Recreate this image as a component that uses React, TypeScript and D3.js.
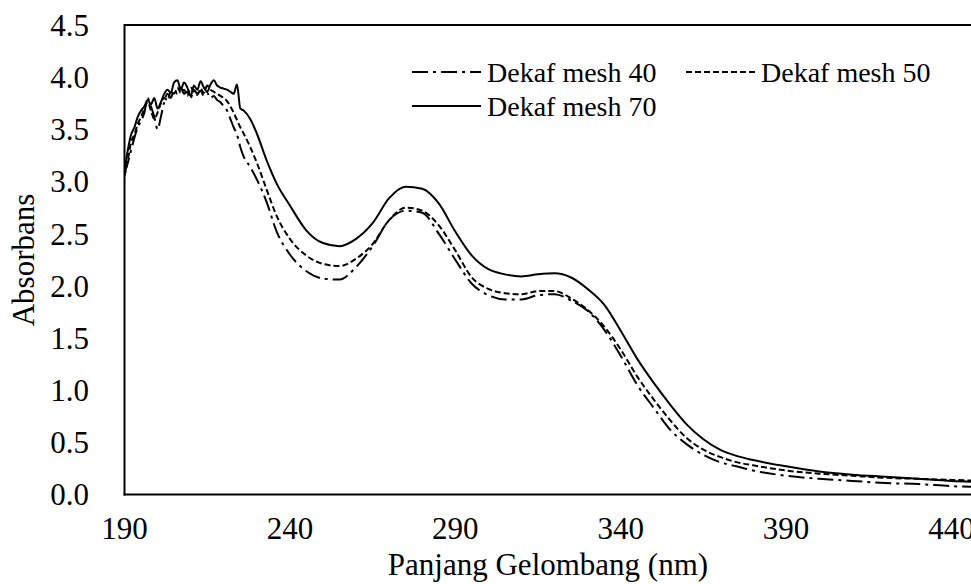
import React from "react";
import * as d3 from "d3";

const wavelengths = [
  190, 191, 192, 193, 194, 195, 196, 197, 198, 199, 200, 201, 202, 203, 204, 205, 206, 207, 208, 209,
  210, 211, 212, 213, 214, 215, 216, 217, 218, 219, 220, 221, 222, 223, 224, 225, 226, 228, 230, 233,
  236, 240, 245, 250, 255, 260, 265, 270, 275, 280, 285, 290, 295, 300, 305, 310, 315, 320, 325, 330,
  335, 340, 345, 350, 355, 360, 365, 370, 375, 380, 390, 400, 410, 420, 430, 440, 450,
];

const mesh40 = [
  3.08, 3.18, 3.3, 3.42, 3.52, 3.58, 3.66, 3.8, 3.72, 3.62, 3.5, 3.62, 3.76, 3.84, 3.8, 3.88, 3.84, 3.9, 3.84, 3.86,
  3.8, 3.88, 3.84, 3.87, 3.82, 3.85, 3.8, 3.82, 3.78, 3.76, 3.72, 3.68, 3.6, 3.52, 3.45, 3.33, 3.24, 3.14, 3.02, 2.8,
  2.52, 2.3, 2.14, 2.07, 2.06, 2.18, 2.38, 2.63, 2.72, 2.7, 2.5, 2.25, 2.02, 1.91, 1.87, 1.87, 1.91, 1.92, 1.86, 1.76,
  1.58, 1.33, 1.05, 0.83, 0.62, 0.48, 0.38, 0.31, 0.27, 0.23, 0.18, 0.15, 0.13, 0.11, 0.1, 0.08, 0.07,
];

const mesh50 = [
  3.05, 3.2, 3.38, 3.45, 3.55, 3.62, 3.7, 3.76, 3.68, 3.6, 3.66, 3.75, 3.8, 3.78, 3.86, 3.84, 3.9, 3.85, 3.88, 3.82,
  3.9, 3.86, 3.83, 3.89, 3.85, 3.92, 3.88, 3.86, 3.84, 3.82, 3.8, 3.77, 3.72, 3.66, 3.59, 3.52, 3.46, 3.33, 3.18, 2.92,
  2.67, 2.45, 2.29, 2.21, 2.19, 2.26, 2.4, 2.63, 2.75, 2.72, 2.58, 2.34, 2.08, 1.97, 1.93, 1.92, 1.95, 1.95, 1.88, 1.77,
  1.61, 1.39, 1.13, 0.91, 0.71, 0.54, 0.43, 0.36, 0.31, 0.28, 0.23, 0.2, 0.18, 0.16, 0.15, 0.14, 0.13,
];

const mesh70 = [
  3.1, 3.3, 3.45, 3.52, 3.62, 3.68, 3.72, 3.78, 3.74, 3.8, 3.7, 3.76, 3.84, 3.88, 3.85, 3.95, 3.97, 3.88, 3.95, 3.9,
  3.82, 3.92, 3.88, 3.96, 3.9, 3.86, 3.93, 3.97, 3.92, 3.9, 3.89, 3.88, 3.86, 3.84, 3.93, 3.7, 3.68, 3.6, 3.46, 3.2,
  2.98, 2.77, 2.53, 2.41, 2.38, 2.45, 2.6, 2.84, 2.95, 2.93, 2.79, 2.52, 2.29, 2.16, 2.11, 2.09, 2.11, 2.12, 2.08, 1.97,
  1.82, 1.57, 1.3, 1.07, 0.86, 0.67, 0.53, 0.43, 0.37, 0.33, 0.27, 0.22, 0.19, 0.17, 0.15, 0.13, 0.12,
];

const xTicks = [190, 240, 290, 340, 390, 440];
const yTicks = [0, 0.5, 1, 1.5, 2, 2.5, 3, 3.5, 4, 4.5];
const seriesNames = ["Dekaf mesh 40", "Dekaf mesh 50", "Dekaf mesh 70"];

const W = 971;
const H = 584;
const left = 124.5;
const top = 25;
const bottom = 494.5;
const right = 971;
const FONT = "'Liberation Serif', 'Times New Roman', Tinos, 'DejaVu Serif', serif";

export default function App() {
  const x = d3.scaleLinear().domain([190, 440]).range([left, 951.5]);
  const y = d3.scaleLinear().domain([0, 4.5]).range([bottom, top]);
  const line = d3
    .line<number>()
    .x((_, i) => x(wavelengths[i]))
    .y((v) => y(v))
    .curve(d3.curveMonotoneX);

  const dashes = ["16,5,3,5", "6,3", "none"];
  const data = [mesh40, mesh50, mesh70];
  const ts = (size: number) => ({ fontFamily: FONT, fontSize: size });

  return (
    <div style={{ position: "absolute", left: 0, top: 0 }}>
      <svg width={W} height={H} style={{ display: "block", background: "#fff" }}>
        <defs>
          <clipPath id="plot">
            <rect x={left} y={top} width={right - left + 20} height={bottom - top} />
          </clipPath>
        </defs>
        <g clipPath="url(#plot)">
          {data.map((d, i) => (
            <path
              key={i}
              d={line(d) || ""}
              fill="none"
              stroke="#000"
              strokeWidth={2}
              strokeDasharray={dashes[i]}
              strokeLinejoin="round"
            />
          ))}
        </g>
        <line x1={left} x2={right} y1={top} y2={top} stroke="#000" strokeWidth={2} />
        <line x1={left} x2={left} y1={top - 1} y2={bottom + 1} stroke="#000" strokeWidth={2} />
        <line x1={left - 1} x2={right} y1={bottom} y2={bottom} stroke="#000" strokeWidth={2} />
        {yTicks.map((t) => (
          <text key={t} x={89} y={y(t)} dy="0.35em" textAnchor="end" style={ts(31)}>
            {t.toFixed(1)}
          </text>
        ))}
        {xTicks.map((t) => (
          <text key={t} x={x(t)} y={528} dy="0.35em" textAnchor="middle" style={ts(31)}>
            {t}
          </text>
        ))}
        <text x={548} y={575} textAnchor="middle" style={ts(31)}>
          Panjang Gelombang (nm)
        </text>
        <text transform="translate(34,260) rotate(-90)" textAnchor="middle" style={ts(31)}>
          Absorbans
        </text>
        {/* legend */}
        <line x1={412} x2={481} y1={72} y2={72} stroke="#000" strokeWidth={2} strokeDasharray="16,5,3,5" />
        <text x={487} y={72} dy="0.35em" style={ts(28)}>{seriesNames[0]}</text>
        <line x1={686} x2={755} y1={72} y2={72} stroke="#000" strokeWidth={2} strokeDasharray="6,3" />
        <text x={761} y={72} dy="0.35em" style={ts(28)}>{seriesNames[1]}</text>
        <line x1={412} x2={481} y1={106} y2={106} stroke="#000" strokeWidth={2} />
        <text x={487} y={106} dy="0.35em" style={ts(28)}>{seriesNames[2]}</text>
      </svg>
    </div>
  );
}
